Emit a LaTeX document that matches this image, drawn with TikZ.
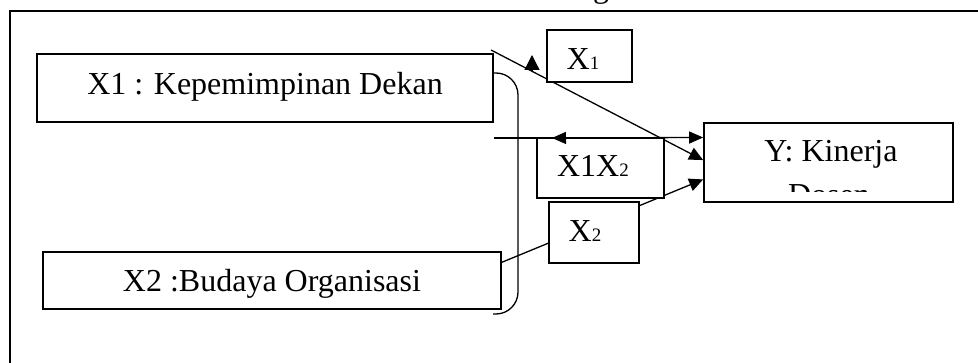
\documentclass[tikz,border=0pt]{standalone}
\usepackage{fontspec}
\setmainfont{Liberation Serif}
\usetikzlibrary{arrows.meta,calc}

\tikzset{
  box/.style={draw, line width=1.7pt, fill=white, inner sep=0pt, rectangle},
  lbl/.style={anchor=base, inner sep=0pt, font=\fontsize{32}{44}\selectfont},
  link/.style={line width=1.3pt},
  tip/.style={-{Triangle[length=14pt,width=13pt]}},
}
\newcommand{\smallsub}[1]{{\fontsize{19}{19}\selectfont #1}}

\begin{document}
\begin{tikzpicture}[x=1pt,y=-1pt]
  \useasboundingbox (0,0) rectangle (978,363);
  \clip (0,0) rectangle (978,363);

  % descender of the caption line above the frame
  \node[lbl] (cap) at (601,-2) {g};

  % outer frame (left and top edges)
  \draw[line width=1.5pt] (10,370) -- (10,11) -- (985,11);

  % main variable boxes
  \node[box, minimum width=456pt, minimum height=68pt] (X1) at (265,88) {};
  \node[lbl] (X1t) at (265,95) {X1 : Kepemimpinan Dekan};
  \node[box, minimum width=458pt, minimum height=57pt] (X2) at (272,280.5) {};
  \node[lbl] (X2t) at (272,292) {X2 :Budaya Organisasi};
  \node[box, minimum width=249pt, minimum height=79pt] (Y) at (828.5,162.5) {};

  % bracket joining X1 and X2
  \draw[link, rounded corners=22pt] (494,73) -- (518,73) -- (518,314) -- (493,314);

  % connectors into Y
  \coordinate (d0) at (491,50);
  \draw[link, tip] (d0) -- ($(Y.north west)!0.47!(Y.south west)$);
  \draw[link, tip] ($(X2.north east)!0.19!(X2.south east)$) -- ($(Y.north west)!0.71!(Y.south west)$);

  % lone upward arrow head beside X1
  \coordinate (u0) at (532,70);
  \coordinate (u1) at (532,55);
  \draw[link, -{Triangle[length=15pt,width=15pt]}] (u0) -- (u1);

  % small labelled boxes
  \node[box, minimum width=85pt, minimum height=52pt] (bx1) at (589.5,56) {};
  \node[lbl] (bx1t) at (583,70) {X\smallsub{1}};
  \node[box, minimum width=127pt, minimum height=60pt] (bx12) at (600.5,168) {};
  \node[lbl] (bx12t) at (593,177) {X1X\smallsub{2}};
  \node[box, minimum width=90pt, minimum height=61pt] (bx2) at (594,232.5) {};
  \node[lbl] (bx2t) at (585,242) {X\smallsub{2}};

  % horizontal double arrow running along the top of the X1X2 box
  \coordinate (h0) at (494,138);
  \coordinate (h1) at (552,138);
  \draw[link] (h0) -- (h1);
  \draw[link, {Triangle[length=14pt,width=12pt]}-{Triangle[length=14pt,width=12pt]}]
    (h1) -- ($(Y.north west)!0.19!(Y.south west)$);

  % Y label, cut off at the lower edge
  \begin{scope}
    \clip (705,124) rectangle (952,192);
    \node[lbl] (Yt1) at (831,162) {Y: Kinerja};
    \node[lbl] (Yt2) at (829,206) {Dosen};
  \end{scope}
\end{tikzpicture}
\end{document}
